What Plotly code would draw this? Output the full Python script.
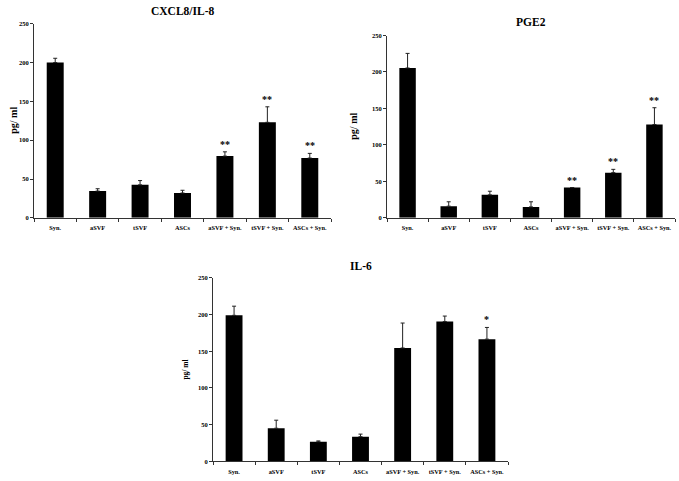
import plotly.graph_objects as go

categories = ["Syn.", "aSVF", "tSVF", "ASCs", "aSVF + Syn.", "tSVF + Syn.", "ASCs + Syn."]

il8_values = [200, 34.5, 42.5, 32, 79.5, 123, 77]
il8_errors = [5.5, 3, 5.5, 3.5, 5.5, 20, 6]
il8_signif = ["", "", "", "", "**", "**", "**"]

pge2_values = [205.5, 16, 31.5, 15, 41.5, 62, 128]
pge2_errors = [20, 6, 5, 7, 0, 4.5, 23]
pge2_signif = ["", "", "", "", "**", "**", "**"]

il6_values = [199, 45, 26.5, 33.5, 154.5, 190.5, 166.5]
il6_errors = [12.5, 11, 1.2, 3.5, 34, 7.5, 16]
il6_signif = ["", "", "", "", "", "", "*"]

y_ticks = [0, 50, 100, 150, 200, 250]

W, H = 679, 481
FONT = "Liberation Serif"

panels = [
    # title, values, errors, signif, (x0,x1,ytop,ybottom) px, title y px, ylabel x px, ylabel size
    ("CXCL8/IL-8", il8_values, il8_errors, il8_signif, (34, 331, 20, 217), 7, 14, 10),
    ("PGE2", pge2_values, pge2_errors, pge2_signif, (387, 675, 32, 217), 18, 354, 10),
    ("IL-6", il6_values, il6_errors, il6_signif, (213, 508, 278, 464), 266, 186, 7.5),
]

fig = go.Figure()
layout = dict(
    width=W, height=H,
    margin=dict(l=0, r=0, t=0, b=0),
    paper_bgcolor="white", plot_bgcolor="white",
    showlegend=False,
    bargap=0.6,
    font=dict(family=FONT, color="black"),
)
annotations = []

for i, (title, vals, errs, sig, (x0, x1, yt, yb), ty, lx, lsize) in enumerate(panels, start=1):
    xa = "x" if i == 1 else f"x{i}"
    ya = "y" if i == 1 else f"y{i}"
    fig.add_trace(go.Bar(
        x=categories, y=vals, xaxis=xa, yaxis=ya,
        marker=dict(color="black", line=dict(width=0)),
        error_y=dict(type="data", array=errs, arrayminus=[0] * len(errs), symmetric=False,
                     color="#222222", thickness=1, width=2),
    ))
    xkey = "xaxis" if i == 1 else f"xaxis{i}"
    ykey = "yaxis" if i == 1 else f"yaxis{i}"
    layout[xkey] = dict(
        domain=[x0 / W, x1 / W], anchor=ya, type="category",
        showline=True, linecolor="#333333", linewidth=1,
        ticks="outside", tickson="boundaries", ticklen=3, tickcolor="#333333",
        ticklabelstandoff=4,
        tickfont=dict(family=FONT, size=6.3, color="black", weight="bold"),
        showgrid=False, zeroline=False, tickangle=0,
    )
    layout[ykey] = dict(
        domain=[1 - yb / H, 1 - yt / H], anchor=xa, range=[0, 250],
        tickvals=y_ticks, showline=True, linecolor="#333333", linewidth=1,
        ticks="outside", ticklen=3, tickcolor="#333333",
        tickfont=dict(family=FONT, size=6.5, color="black", weight="bold"),
        showgrid=False, zeroline=False,
    )
    annotations.append(dict(
        text="<b>" + title + "</b>", x=(x0 + x1) / 2 / W, y=1 - ty / H,
        xref="paper", yref="paper", showarrow=False,
        font=dict(family=FONT, size=11.5, color="black"), xanchor="center", yanchor="middle",
    ))
    annotations.append(dict(
        text="<b>pg/ ml</b>", x=lx / W, y=1 - (yt + yb) / 2 / H,
        xref="paper", yref="paper", showarrow=False, textangle=-90,
        font=dict(family=FONT, size=lsize, color="black"), xanchor="center", yanchor="middle",
    ))
    for c, v, e, s in zip(categories, vals, errs, sig):
        if s:
            annotations.append(dict(
                text="<b>" + s + "</b>", x=c, y=v + e, xref=xa, yref=ya,
                showarrow=False, yanchor="bottom", yshift=0,
                font=dict(family=FONT, size=10, color="black"),
            ))

layout["annotations"] = annotations
fig.update_layout(**layout)
fig.write_html(
    "out.html",
    config={"displayModeBar": False},
    post_script="document.body.style.margin='0';document.body.style.overflow='hidden';",
)
